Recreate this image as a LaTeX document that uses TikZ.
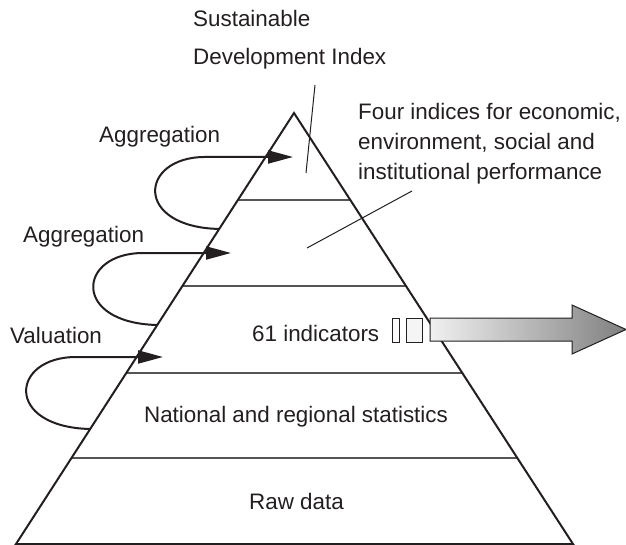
\documentclass[tikz,border=0pt]{standalone}
\usepackage{fontspec}
\setmainfont{Liberation Sans}
\usetikzlibrary{arrows.meta,calc}
\definecolor{ink}{HTML}{231F20}
\definecolor{rule}{HTML}{555555}
\definecolor{shadeL}{HTML}{F0F0F0}
\definecolor{shadeR}{HTML}{808080}
\begin{document}
\begin{tikzpicture}[x=1pt,y=-1pt,
  label/.style={inner sep=0pt,text=ink,font=\fontsize{22.4}{27}\selectfont},
  edge/.style={draw=ink,line width=2pt,line join=miter},
  tier/.style={draw=rule,line width=1.2pt},
  leader/.style={draw=ink,line width=1pt},
  loopline/.style={draw=ink,line width=2pt,-{Triangle[length=25pt,width=13pt]}},
  block/.style={draw=ink,line width=1pt}]
\useasboundingbox (0,0) rectangle (626,545);

% pyramid corners
\coordinate (A) at (294,113);
\coordinate (L) at (16,544);
\coordinate (R) at (573,544);

% tier boundaries
\draw[tier] ($(A)!0.2019!(L)$) -- ($(A)!0.2019!(R)$);
\draw[tier] ($(A)!0.4014!(L)$) -- ($(A)!0.4014!(R)$);
\draw[tier] ($(A)!0.6032!(L)$) -- ($(A)!0.6032!(R)$);
\draw[tier] ($(A)!0.8005!(L)$) -- ($(A)!0.8005!(R)$);

% outline
\draw[edge] (L) -- (A) -- (R) -- cycle;

% aggregation / valuation loops
\coordinate (s1) at ($(A)!0.2691!(L)$);
\coordinate (t1) at (293,157);
\draw[loopline] (s1) .. controls ($(s1)+(-86,-2)$) and ($(s1)+(-80,-72)$) .. ($(s1)+(-14,-72)$) -- (t1);
\coordinate (s2) at ($(A)!0.4919!(L)$);
\coordinate (t2) at (231,253);
\draw[loopline] (s2) .. controls ($(s2)+(-86,-2)$) and ($(s2)+(-80,-72)$) .. ($(s2)+(-14,-72)$) -- (t2);
\coordinate (s3) at ($(A)!0.7332!(L)$);
\coordinate (t3) at (163,357);
\draw[loopline] (s3) .. controls ($(s3)+(-86,-2)$) and ($(s3)+(-80,-72)$) .. ($(s3)+(-14,-72)$) -- (t3);

% small boxes and output arrow
\draw[block,fill=gray!3] (392.7,318) rectangle (399.3,342);
\draw[block,fill=gray!8] (406.7,318) rectangle (422,342);
\path[block,left color=shadeL,right color=shadeR]
  (430,318) coordinate (b1) -- (572,318) -- (572,305) -- (626,329.5) coordinate (tip)
  -- (572,354) -- (572,341) -- (430,341) -- cycle;

% leader lines
\coordinate (sdiA) at (315,85);
\coordinate (sdiB) at (306,173);
\draw[leader] (sdiA) -- (sdiB);
\coordinate (fourA) at (412,191);
\coordinate (fourB) at (307,248);
\draw[leader] (fourA) -- (fourB);

% labels
\node[label,anchor=base west] (sus) at (193,27) {Sustainable};
\node[label,anchor=base west] (dev) at (193,65) {Development Index};
\node[label,anchor=base west] (four1) at (358,120) {Four indices for economic,};
\node[label,anchor=base west] (four2) at (358,150) {environment, social and};
\node[label,anchor=base west] (four3) at (358,180) {institutional performance};
\node[label,anchor=base west] (agg1) at (99,143) {Aggregation};
\node[label,anchor=base west] (agg2) at (23,243) {Aggregation};
\node[label,anchor=base west] (val) at (10,343) {Valuation};
\node[label,anchor=base west] (ind) at (252,341) {61 indicators};
\node[label,anchor=base] (nat) at (296,422) {National and regional statistics};
\node[label,anchor=base] (raw) at (296.5,509) {Raw data};
\end{tikzpicture}
\end{document}
